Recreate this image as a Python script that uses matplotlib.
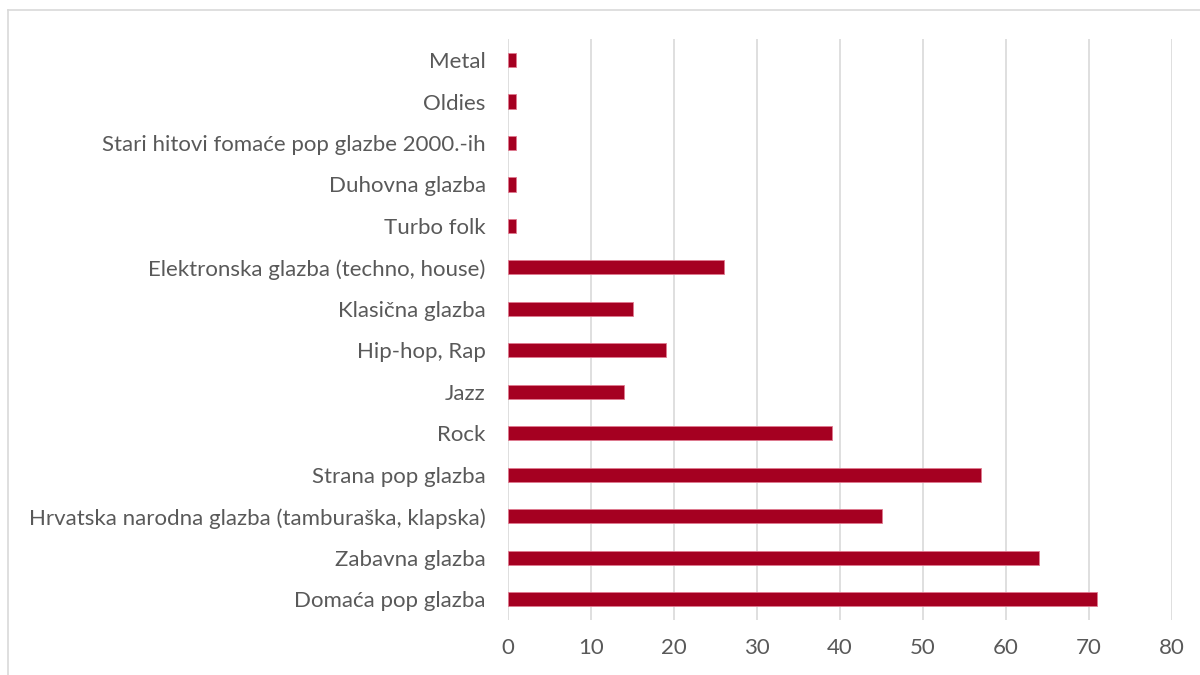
import matplotlib
matplotlib.use("Agg")
import matplotlib.pyplot as plt
from matplotlib.lines import Line2D

categories = [
    "Domaća pop glazba",
    "Zabavna glazba",
    "Hrvatska narodna glazba (tamburaška, klapska)",
    "Strana pop glazba",
    "Rock",
    "Jazz",
    "Hip-hop, Rap",
    "Klasična glazba",
    "Elektronska glazba (techno, house)",
    "Turbo folk",
    "Duhovna glazba",
    "Stari hitovi fomaće pop glazbe 2000.-ih",
    "Oldies",
    "Metal",
]
values = [71, 64, 45, 57, 39, 14, 19, 15, 26, 1, 1, 1, 1, 1]
x_ticks = [0, 10, 20, 30, 40, 50, 60, 70, 80]

plt.rcParams['font.family'] = ['Lato', 'DejaVu Sans']

fig = plt.figure(figsize=(12, 6.75), dpi=100)
W, H = 1200, 675
ax = fig.add_axes([508 / W, 1 - 620 / H, (1172 - 508) / W, (620 - 39.3) / H])

ypos = list(range(len(categories)))
ax.barh(ypos, values, height=0.34, color="#A50021", edgecolor="#E07A90",
        linewidth=0.6, zorder=3)

ax.set_xlim(0, 80)
ax.set_ylim(-0.5, len(categories) - 0.5)
ax.set_xticks(x_ticks)
ax.set_xticklabels([str(t) for t in x_ticks])
ax.set_yticks(ypos)
ax.set_yticklabels(categories)

ax.grid(axis="x", color="#D9D9D9", linewidth=1.2, zorder=0)
ax.grid(axis="y", visible=False)
for s in ax.spines.values():
    s.set_visible(False)
ax.tick_params(axis="both", length=0, colors="#595959", labelsize=16)
ax.tick_params(axis="x", pad=13)
ax.tick_params(axis="y", pad=16)

# outer chart border (partially cropped)
border = "#D9D9D9"
fig.add_artist(Line2D([8 / W, 1.0], [1 - 10 / H, 1 - 10 / H], color=border,
                      linewidth=1.2, transform=fig.transFigure))
fig.add_artist(Line2D([8 / W, 8 / W], [1 - 10 / H, 0.0], color=border,
                      linewidth=1.2, transform=fig.transFigure))

fig.savefig("out.png", dpi=100, facecolor="white")
